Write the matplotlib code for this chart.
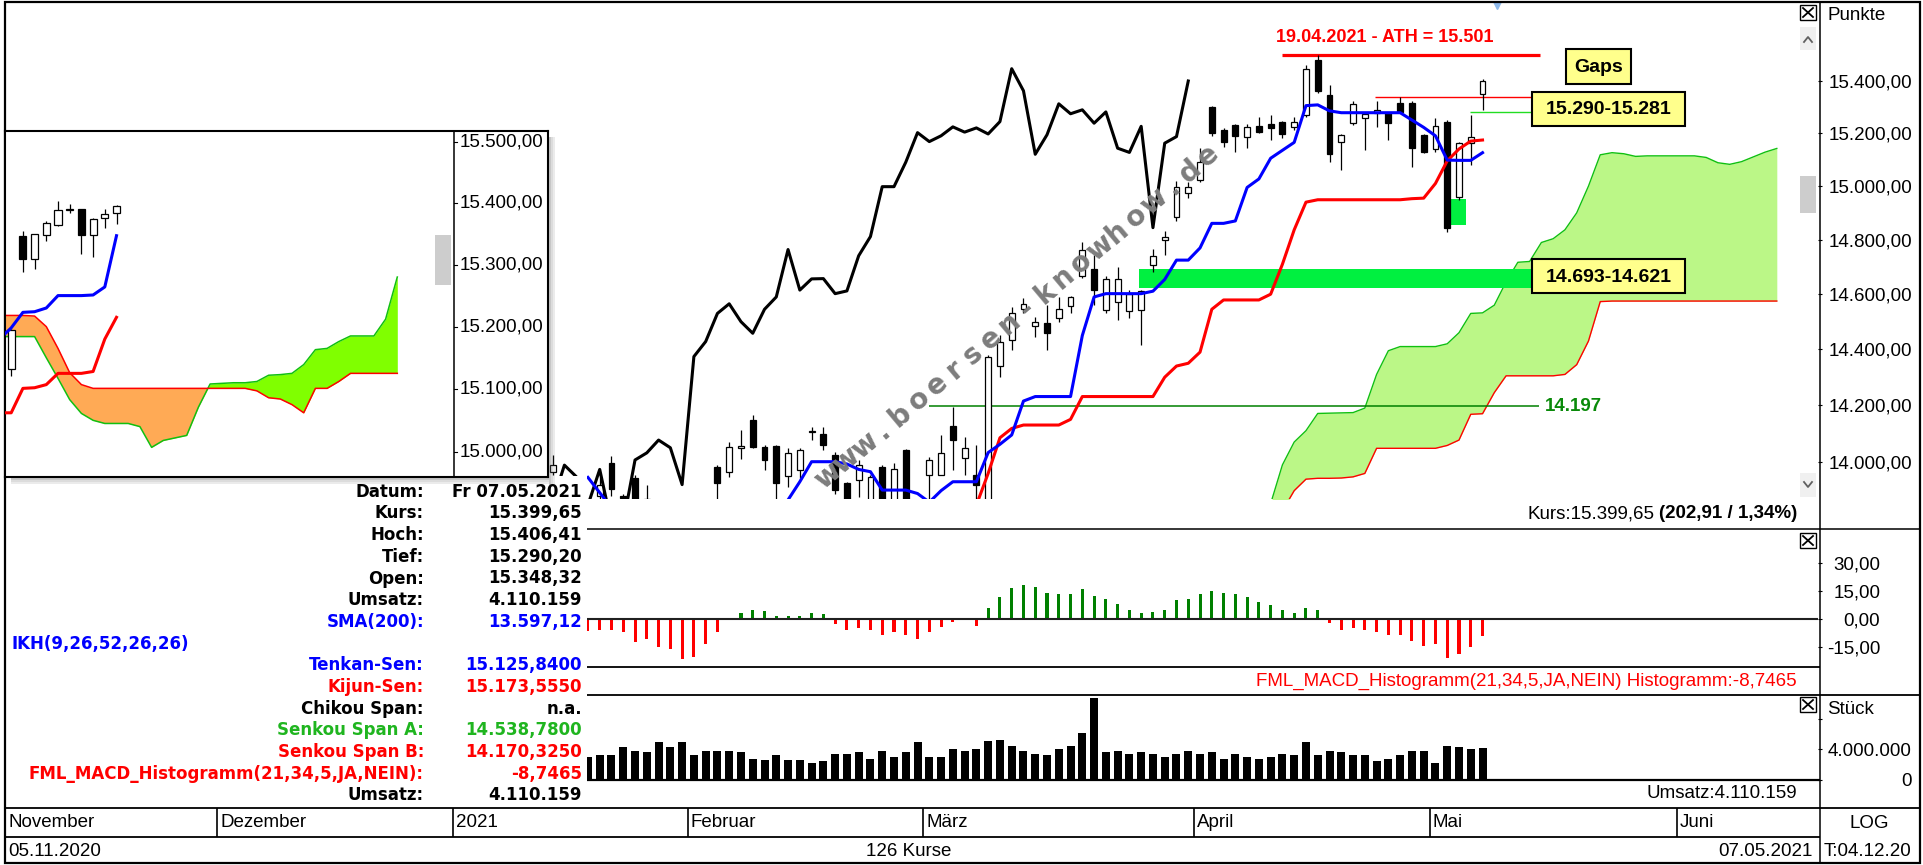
import matplotlib
matplotlib.use("Agg")
import numpy as np
import matplotlib.pyplot as plt
from matplotlib.patches import Rectangle
from matplotlib.ticker import NullLocator

plt.rcParams["font.family"] = ["Liberation Sans", "DejaVu Sans"]
TABLE_FONT = ["DejaVu Sans"]

W, H = 1924, 865

# ---- daily bars: index 0 = 05.11.2020 ... index 125 = 07.05.2021 (126 Kurse) ----
first_bar = 46
opens = [
    13966, 13860, 13800, 13850, 13880, 13995, 13880, 13943, 13700, 13850,
    13620, 13600, 13500, 13700, 13983, 13966, 14050, 14148, 14054, 14056,
    13951, 13972, 14104, 14100, 14024, 13925, 13937, 13865, 13981, 13860,
    14042, 13860, 13954, 13954, 14128, 14015, 13954, 13830, 14340, 14434,
    14545, 14484, 14496, 14512, 14557, 14665, 14691, 14543, 14573, 14537,
    14543, 14707, 14799, 14886, 14973, 15024, 15301, 15212, 15231, 15187,
    15227, 15235, 15244, 15225, 15270, 15481, 15346, 15168, 15240, 15257,
    15276, 15276, 15314, 15317, 15193, 15139, 15244, 14961, 15162, 15348.32,
]
highs = [
    14024, 13868, 13860, 13870, 13960, 14021, 13890, 13955, 13920, 13860,
    13720, 13650, 13680, 13860, 13990, 14071, 14112, 14166, 14058, 14060,
    14048, 14048, 14124, 14124, 14036, 13930, 14007, 13955, 13990, 13995,
    14044, 13865, 14018, 14095, 14194, 14089, 14060, 14380, 14452, 14555,
    14585, 14518, 14561, 14591, 14595, 14792, 14744, 14667, 14700, 14615,
    14617, 14765, 14834, 15020, 15017, 15143, 15305, 15219, 15235, 15235,
    15263, 15270, 15246, 15261, 15462, 15501, 15385, 15196, 15321, 15282,
    15321, 15282, 15340, 15321, 15195, 15257, 15250, 15168, 15270, 15406.41,
]
lows = [
    13955, 13760, 13760, 13780, 13840, 13880, 13780, 13620, 13640, 13580,
    13500, 13400, 13450, 13690, 13850, 13949, 14012, 14048, 13972, 13860,
    13914, 13943, 14077, 14042, 13890, 13840, 13879, 13840, 13830, 13840,
    13780, 13760, 13860, 13954, 13972, 13954, 13860, 13820, 14300, 14398,
    14530, 14445, 14398, 14500, 14530, 14659, 14561, 14530, 14506, 14512,
    14416, 14682, 14744, 14870, 14954, 15017, 15190, 15149, 15130, 15143,
    15200, 15175, 15181, 15212, 15263, 15355, 15092, 15061, 15231, 15137,
    15225, 15175, 15276, 15073, 15124, 15130, 14830, 14948, 15080, 15290.20,
]
closes = [
    13989, 13787, 13848, 13815, 13921, 13906, 13874, 13643, 13871, 13620,
    13665, 13432, 13622, 13835, 13925, 14054, 14056, 14054, 14007, 13925,
    14032, 14042, 14108, 14059, 13902, 13860, 13989, 13949, 13850, 13974,
    13786, 13790, 14007, 14032, 14077, 14050, 13921, 14374, 14428, 14530,
    14565, 14500, 14458, 14545, 14590, 14764, 14615, 14656, 14657, 14602,
    14612, 14741, 14812, 14998, 14998, 15090, 15202, 15168, 15190, 15224,
    15204, 15220, 15197, 15244, 15447, 15362, 15120, 15194, 15312, 15274,
    15289, 15238, 15281, 15143, 15127, 15226, 14845, 15162, 15187, 15399.65,
]
chikou_shift = 25

# ---- indicators from bar 49 on ----
ind_start = 49
tenkan = [
    13946, 13893, 13840, 13800, 13700, 13700, 13700, 13700, 13700, 13700,
    13750, 13780, 13800, 13810, 13810, 13820, 13830, 13868, 13931, 14001,
    14001, 14001, 13993, 13974, 13966, 13902, 13902, 13902, 13890, 13860,
    13900, 13931, 13931, 13931, 14033, 14062, 14095, 14215, 14231, 14231,
    14231, 14231, 14450, 14590, 14602, 14602, 14602, 14602, 14611, 14654,
    14725, 14725, 14770, 14861, 14861, 14870, 14995, 15027, 15105, 15135,
    15165, 15305, 15308, 15285, 15278, 15278, 15278, 15278, 15278, 15278,
    15250, 15222, 15190, 15098, 15097, 15097, 15126,
]
kijun = [
    13790, 13790, 13790, 13790, 13760, 13760, 13760, 13700, 13700, 13700,
    13700, 13700, 13700, 13700, 13700, 13700, 13720, 13720, 13740, 13740,
    13760, 13760, 13760, 13760, 13760, 13780, 13780, 13780, 13780, 13780,
    13780, 13790, 13800, 13850, 13960, 14085, 14118, 14130, 14130, 14130,
    14130, 14150, 14231, 14231, 14231, 14231, 14231, 14231, 14231, 14300,
    14340, 14350, 14390, 14545, 14579, 14579, 14579, 14579, 14600, 14710,
    14837, 14940, 14949, 14949, 14949, 14949, 14949, 14949, 14949, 14949,
    14953, 14955, 15010, 15095, 15140, 15170, 15174,
]
volume_mio = [
    2.99, 3.21, 3.21, 4.23, 3.83, 3.65, 4.93, 4.23, 4.89, 3.21,
    3.83, 3.83, 3.83, 3.65, 2.77, 2.59, 3.21, 2.59, 2.59, 2.19,
    2.42, 3.43, 3.43, 3.65, 2.77, 3.83, 2.99, 3.65, 4.93, 2.99,
    2.99, 4.04, 3.83, 4.04, 5.10, 5.28, 4.49, 3.83, 3.43, 3.21,
    4.04, 4.44, 6.08, 10.78, 3.65, 3.83, 3.43, 3.65, 3.43, 2.99,
    3.43, 3.83, 3.43, 3.65, 2.77, 3.43, 2.99, 2.77, 2.99, 3.43,
    3.21, 4.89, 3.21, 3.83, 3.65, 3.21, 3.21, 2.42, 2.77, 3.21,
    3.83, 3.83, 2.19, 4.44, 4.27, 4.04, 4.11,
]
macd_hist = [
    -6.3, -5.7, -5.7, -6.6, -12.3, -10.7, -15.0, -15.7, -21.4, -20.0,
    -13.2, -6.6, 0.0, 3.6, 5.2, 4.4, 1.8, 1.8, 1.8, 3.6,
    2.6, -2.5, -5.7, -4.8, -5.7, -8.2, -6.6, -8.2, -10.7, -6.6,
    -4.1, -1.3, 0.0, -3.4, 5.9, 11.8, 16.9, 18.3, 17.4, 14.2,
    13.4, 13.4, 16.0, 12.6, 10.9, 8.4, 5.0, 3.2, 4.1, 5.0,
    10.3, 10.9, 13.4, 15.1, 14.2, 13.4, 11.8, 9.3, 7.5, 5.0,
    3.2, 5.9, 5.0, -2.1, -5.7, -4.8, -5.7, -6.6, -8.2, -8.2,
    -11.4, -14.1, -13.2, -20.9, -18.4, -15.0, -8.7465,
]

# ---- Ichimoku cloud (Senkou spans, plotted 25 bars ahead) ----
cloud_start = 104
span_a = [
    13700, 13760, 13820, 13855, 13990, 14070, 14110, 14171, 14172, 14173,
    14174, 14190, 14310, 14395, 14410, 14410, 14410, 14410, 14420, 14460,
    14530, 14532, 14560, 14645, 14717, 14720, 14790, 14804, 14837, 14900,
    15000, 15118, 15126, 15122, 15112, 15114, 15114, 15114, 15114, 15114,
    15108, 15088, 15082, 15092, 15110, 15128, 15142,
]
span_b = [
    13620, 13660, 13700, 13760, 13830, 13900, 13940, 13943, 13943, 13944,
    13948, 13960, 14048, 14048, 14048, 14048, 14048, 14048, 14058, 14077,
    14168, 14170, 14245, 14305, 14305, 14305, 14305, 14305, 14310, 14345,
    14430, 14573, 14575, 14575, 14575, 14575, 14575, 14575, 14575, 14575,
    14575, 14575, 14575, 14575, 14575, 14575, 14575,
]

month_names = ["November", "Dezember", "2021", "Februar", "März", "April", "Mai", "Juni"]
month_first_bar = [0, 18, 38, 58, 78, 101, 121, 142]
price_ticks = [14000, 14200, 14400, 14600, 14800, 15000, 15200, 15400]
macd_ticks = [30, 15, 0, -15]
vol_ticks = [0, 4, 8]
vol_tick_labels = ["0", "4.000.000", ""]

ath_price = 15501
support_level = 14197
gap_big = (14621, 14693)
gap_small = (14855, 14952)
gap_top = (15281, 15290)
resistance_red = 15340

# ---- magnifier window (last candles + cloud) ----
inset_open = [15132, 15347, 15309, 15348, 15364, 15389, 15390, 15348, 15376, 15384]
inset_high = [15196, 15354, 15350, 15371, 15404, 15398, 15391, 15376, 15391, 15397]
inset_low = [15121, 15288, 15293, 15339, 15363, 15384, 15317, 15313, 15360, 15366]
inset_close = [15194, 15309, 15349, 15368, 15389, 15391, 15348, 15374, 15382, 15396]
inset_tenkan = [15180, 15198, 15223, 15224, 15230, 15250, 15250, 15250, 15251, 15264, 15347]
inset_kijun = [15062, 15062, 15101, 15102, 15107, 15125, 15125, 15125, 15128, 15180, 15215]
inset_span_a = [
    15184, 15184, 15184, 15184, 15150, 15117, 15083, 15061, 15050, 15045,
    15045, 15045, 15040, 15007, 15018, 15022, 15026, 15071, 15108, 15109,
    15110, 15110, 15112, 15122, 15123, 15125, 15139, 15163, 15165, 15176,
    15185, 15185, 15185, 15212, 15280,
]
inset_span_b = [
    15218, 15218, 15218, 15217, 15200, 15165, 15126, 15107, 15101, 15101,
    15101, 15101, 15101, 15101, 15101, 15101, 15101, 15101, 15101, 15101,
    15101, 15101, 15097, 15086, 15084, 15075, 15062, 15101, 15101, 15112,
    15125, 15125, 15125, 15125, 15125,
]
inset_ticks = [15000, 15100, 15200, 15300, 15400, 15500]

info_rows = [
    ("Datum:", "Fr 07.05.2021", "black"),
    ("Kurs:", "15.399,65", "black"),
    ("Hoch:", "15.406,41", "black"),
    ("Tief:", "15.290,20", "black"),
    ("Open:", "15.348,32", "black"),
    ("Umsatz:", "4.110.159", "black"),
    ("SMA(200):", "13.597,12", "#0000ff"),
    (None, None, None),
    ("Tenkan-Sen:", "15.125,8400", "#0000ff"),
    ("Kijun-Sen:", "15.173,5550", "#ff0000"),
    ("Chikou Span:", "n.a.", "black"),
    ("Senkou Span A:", "14.538,7800", "#1fb51f"),
    ("Senkou Span B:", "14.170,3250", "#ff0000"),
    ("FML_MACD_Histogramm(21,34,5,JA,NEIN):", "-8,7465", "#ff0000"),
    ("Umsatz:", "4.110.159", "black"),
]
watermark = "www.boersen-knowhow.de"


def de(v, nd=2):
    s = f"{v:,.{nd}f}"
    return s.replace(",", "#").replace(".", ",").replace("#", ".")


def box(x0, y0, x1, y1):
    return [x0 / W, 1 - y1 / H, (x1 - x0) / W, (y1 - y0) / H]


def bare(a):
    for s in a.spines.values():
        s.set_visible(False)
    a.set_xticks([])


def candles(a, x, o, h, l, c, width, lw):
    o, h, l, c = map(np.asarray, (o, h, l, c))
    a.vlines(x, l, h, color="black", lw=lw, zorder=3)
    cols = ["white" if cc >= oo else "black" for oo, cc in zip(o, c)]
    a.bar(x, np.maximum(np.abs(c - o), 1.5), bottom=np.minimum(o, c), width=width,
          color=cols, edgecolor="black", linewidth=lw, zorder=4)


X0, X1 = -0.44, 153.5
fig = plt.figure(figsize=(W / 100, H / 100), dpi=100)
fig.patch.set_facecolor("white")

# ---------------- price panel ----------------
ax = fig.add_axes(box(6, 3, 1818, 499))
bare(ax)
ax.set_xlim(X0, X1)
ax.set_yscale("log")
ax.set_ylim(13871, 15703)
ax.yaxis.set_ticks_position("right")
ax.set_yticks(price_ticks)
ax.set_yticklabels([de(p) for p in price_ticks])
ax.yaxis.set_minor_locator(NullLocator())
ax.tick_params(axis="y", direction="out", length=3, width=0.8, pad=4.3, labelsize=13.5)

bars = np.arange(first_bar, first_bar + len(closes))
xi = np.arange(ind_start, ind_start + len(tenkan))
xc = np.arange(cloud_start, cloud_start + len(span_a))
sa, sb = np.array(span_a), np.array(span_b)

ax.fill_between(xc, sa, sb, where=sa >= sb, interpolate=True, color="#bbf787", lw=0, zorder=1)
ax.fill_between(xc, sa, sb, where=sa < sb, interpolate=True, color="#ffaa55", lw=0, zorder=1)
ax.plot(xc, sa, color="#10c010", lw=1.0, zorder=2)
ax.plot(xc, sb, color="#ff0000", lw=1.0, zorder=2)

ax.fill_between([95.8, 129.3], gap_big[0], gap_big[1], color="#00f040", lw=0, zorder=2)
ax.fill_between([122.1, 123.6], gap_small[0], gap_small[1], color="#00f040", lw=0, zorder=2)

ax.hlines(support_level, 78, 129.8, color="#008000", lw=1.1, zorder=2)
ax.hlines(ath_price, 108, 129.9, color="#ff0000", lw=2.3, zorder=2)
ax.hlines(resistance_red, 115.9, 129.2, color="#ff0000", lw=1.0, zorder=2)
ax.hlines(gap_top[0], 123.9, 129.2, color="#22dd22", lw=1.0, zorder=2)

ax.plot(bars - chikou_shift, closes, color="black", lw=2.2, zorder=5)
candles(ax, bars, opens, highs, lows, closes, 0.5, 0.9)
ax.plot(xi, kijun, color="#ff0000", lw=2.2, zorder=6)
ax.plot(xi, tenkan, color="#0000ff", lw=2.2, zorder=6)
ax.plot([126.2], [15703], marker="v", ms=9, color="#8db8ea", clip_on=True, zorder=6)

ax.text(116.7, 15570, "19.04.2021 - ATH = " + de(ath_price, 0).replace(",", "."),
        color="#ff0000", fontsize=13, fontweight="bold", ha="center", va="center")
ax.text(130.3, support_level, de(support_level, 0).replace(",", "."), color="#0a8a0a",
        fontsize=13.5, fontweight="bold", ha="left", va="center")

# ---------------- MACD panel ----------------
ax_m = fig.add_axes(box(6, 530, 1818, 667))
bare(ax_m)
ax_m.set_xlim(X0, X1)
ax_m.set_ylim(-25.5, 47.75)
ax_m.bar(xi, macd_hist, width=0.26, color=["#008000" if v >= 0 else "#ff0000" for v in macd_hist], zorder=3)
ax_m.axhline(0, color="#202020", lw=1.5, zorder=4)
ax_m.yaxis.set_ticks_position("right")
ax_m.set_yticks(macd_ticks)
ax_m.set_yticklabels([de(v) for v in macd_ticks])
ax_m.tick_params(axis="y", direction="out", length=3, width=0.8, pad=41.8, labelsize=13.5)
for t in ax_m.get_yticklabels():
    t.set_horizontalalignment("right")

# ---------------- volume panel ----------------
ax_v = fig.add_axes(box(6, 695, 1818, 779.5))
bare(ax_v)
ax_v.set_xlim(X0, X1)
ax_v.set_ylim(0, 11.16)
ax_v.bar(xi, volume_mio, width=0.68, color="black", zorder=3)
ax_v.yaxis.set_ticks_position("right")
ax_v.set_yticks(vol_ticks)
ax_v.set_yticklabels(vol_tick_labels)
ax_v.tick_params(axis="y", direction="out", length=3, width=0.8, pad=64.2, labelsize=13.5)
for t in ax_v.get_yticklabels():
    t.set_horizontalalignment("right")

# ---------------- month row ----------------
ax_mo = fig.add_axes(box(6, 808, 1818, 837))
bare(ax_mo)
ax_mo.set_yticks([])
ax_mo.set_xlim(X0, X1)
ax_mo.set_ylim(0, 1)
for name, b in zip(month_names, month_first_bar):
    if b > 0:
        ax_mo.axvline(b - 0.5, color="black", lw=1.2)
    ax_mo.text(b - 0.25, 0.5, name, fontsize=13.5, va="center", ha="left")

# ---------------- magnifier window ----------------
ax_in = fig.add_axes(box(5, 131, 548, 477))
ax_in.set_zorder(6)
ax_in.set_xlim(-0.53, 45.88)
ax_in.set_yscale("log")
ax_in.set_ylim(14960, 15518)
ax_in.set_xticks([])
ax_in.set_yticks([])
ax_in.yaxis.set_minor_locator(NullLocator())
for s in ax_in.spines.values():
    s.set_linewidth(1.5)
ia, ib = np.array(inset_span_a), np.array(inset_span_b)
ix = np.arange(-1, len(ia) - 1)
ax_in.fill_between(ix, ia, ib, where=ia >= ib, interpolate=True, color="#80ff00", lw=0)
ax_in.fill_between(ix, ia, ib, where=ia < ib, interpolate=True, color="#ffaa55", lw=0)
ax_in.plot(ix, ia, color="#10c010", lw=1.1)
ax_in.plot(ix, ib, color="#ff0000", lw=1.1)
candles(ax_in, np.arange(len(inset_close)), inset_open, inset_high, inset_low, inset_close, 0.6, 0.9)
ax_in.plot(np.arange(-1, len(inset_tenkan) - 1), inset_tenkan, color="#0000ff", lw=2.2, zorder=6)
ax_in.plot(np.arange(-1, len(inset_kijun) - 1), inset_kijun, color="#ff0000", lw=2.2, zorder=6)
ax_in.axvline(37.85, color="black", lw=1.1)
for p in inset_ticks:
    ax_in.plot([37.85, 38.1], [p, p], color="black", lw=0.8)
    ax_in.text(38.36, p, de(p), fontsize=13.5, ha="left", va="center")

# ---------------- overlay: frames, texts, widgets ----------------
ov = fig.add_axes([0, 0, 1, 1])
ov.set_zorder(5)
ov.set_xlim(0, W)
ov.set_ylim(H, 0)
ov.axis("off")


def rect(x0, y0, x1, y1, **kw):
    ov.add_patch(Rectangle((x0, y0), x1 - x0, y1 - y0, **kw))


def hl(y, x0, x1, lw=1.1, color="black"):
    ov.plot([x0, x1], [y, y], color=color, lw=lw, solid_capstyle="butt")


def xbox(x0, y0):
    rect(x0, y0, x0 + 16, y0 + 15, facecolor="white", edgecolor="black", lw=1.0)
    ov.plot([x0 + 3, x0 + 13], [y0 + 3, y0 + 12], color="black", lw=1.3)
    ov.plot([x0 + 13, x0 + 3], [y0 + 3, y0 + 12], color="black", lw=1.3)


# data table background (hides what lies below the magnifier window)
rect(5, 476, 587, 807, facecolor="white", lw=0, zorder=1)

# inset shadow
for i, a in enumerate([0.35, 0.22, 0.12]):
    rect(549 + 2 * i, 137, 551 + 2 * i, 485, facecolor="#606060", alpha=a, lw=0, zorder=2)
    rect(11, 478 + 2 * i, 549, 480 + 2 * i, facecolor="#606060", alpha=a, lw=0, zorder=2)

# separators
hl(529, 587, 1920)
hl(667, 587, 1820, lw=1.3)
hl(695, 587, 1920, lw=1.3)
hl(780, 587, 1820, lw=1.6)
hl(808, 5, 1920, lw=1.3)
hl(837, 5, 1820, lw=1.3)
ov.plot([1820, 1820], [2, 863], color="black", lw=1.1)

# watermark, one glyph at a time along a slanted line
wx0, wy0, wx1, wy1 = 828, 476, 1208, 156
n = len(watermark)
for i, ch in enumerate(watermark):
    f = i / (n - 1)
    ov.text(wx0 + f * (wx1 - wx0), wy0 + f * (wy1 - wy0), ch, rotation=40,
            rotation_mode="anchor", ha="center", va="center", fontsize=20,
            fontweight="bold", color="#7c7c7c", family=TABLE_FONT)

# gap labels
for (x0, y0, x1, y1), label in [((1566, 49, 1631, 84), "Gaps"),
                                 ((1532, 92, 1685, 126), "15.290-15.281"),
                                 ((1532, 259, 1685, 293), "14.693-14.621")]:
    rect(x0, y0, x1, y1, facecolor="#ffff8c", edgecolor="black", lw=1.5)
    ov.text((x0 + x1) / 2, (y0 + y1) / 2 + 1, label, fontsize=14, fontweight="bold",
            ha="center", va="center")

# scroll widgets
xbox(1800, 5)
xbox(1800, 533)
xbox(1800, 697)
rect(1800, 27, 1816, 50, facecolor="#f0f0f0", lw=0)
ov.plot([1804, 1808, 1812], [42, 37, 42], color="#606060", lw=1.3)
rect(1800, 473, 1816, 497, facecolor="#f0f0f0", lw=0)
ov.plot([1804, 1808, 1812], [482, 487, 482], color="#606060", lw=1.3)
rect(1800, 176, 1816, 213, facecolor="#cdcdcd", lw=0)

# right column
ov.text(1828, 16, "Punkte", fontsize=13.5, va="center")
ov.text(1827, 709, "Stück", fontsize=13.5, va="center")
ov.text(1869, 823, "LOG", fontsize=13.5, va="center", ha="center")
ov.text(1824, 851, "T:04.12.20", fontsize=13.5, va="center")

# panel info lines
renderer = fig.canvas.get_renderer()
tb = ov.text(1797, 514, "(202,91 / 1,34%)", fontsize=13.5, fontweight="bold", ha="right", va="center")
wb = tb.get_window_extent(renderer).width
ov.text(1797 - wb - 4, 514, "Kurs:15.399,65", fontsize=13.5, ha="right", va="center")
ov.text(1797, 681, "FML_MACD_Histogramm(21,34,5,JA,NEIN) Histogramm:-8,7465",
        fontsize=13.5, color="#ff0000", ha="right", va="center")
ov.text(1797, 794, "Umsatz:4.110.159", fontsize=13.5, ha="right", va="center")

# bottom row
ov.text(8, 851, "05.11.2020", fontsize=13.5, va="center")
ov.text(909, 851, "126 Kurse", fontsize=13.5, va="center", ha="center")
ov.text(1813, 851, "07.05.2021", fontsize=13.5, va="center", ha="right")

# data table texts
for i, (lab, val, col) in enumerate(info_rows):
    y = 491.7 + 21.7 * i
    if lab is None:
        ov.text(12, y, "IKH(9,26,52,26,26)", color="#0000ff", fontsize=12, fontweight="bold",
                va="center", ha="left", family=TABLE_FONT, zorder=4)
        continue
    ov.text(424, y, lab, color=col, fontsize=12, fontweight="bold", va="center", ha="right",
            family=TABLE_FONT, zorder=4)
    ov.text(582, y, val, color=col, fontsize=12, fontweight="bold", va="center", ha="right",
            family=TABLE_FONT, zorder=4)

# outer frame
rect(5, 2, 1920, 863, facecolor="none", edgecolor="black", lw=1.6, zorder=6)

# magnifier scroll thumb (drawn on a top layer so it sits over the inset)
top = fig.add_axes([0, 0, 1, 1])
top.set_zorder(7)
top.set_xlim(0, W)
top.set_ylim(H, 0)
top.axis("off")
top.add_patch(Rectangle((435, 235), 16, 50, facecolor="#cdcdcd", lw=0))

fig.savefig("out.png", dpi=100)
